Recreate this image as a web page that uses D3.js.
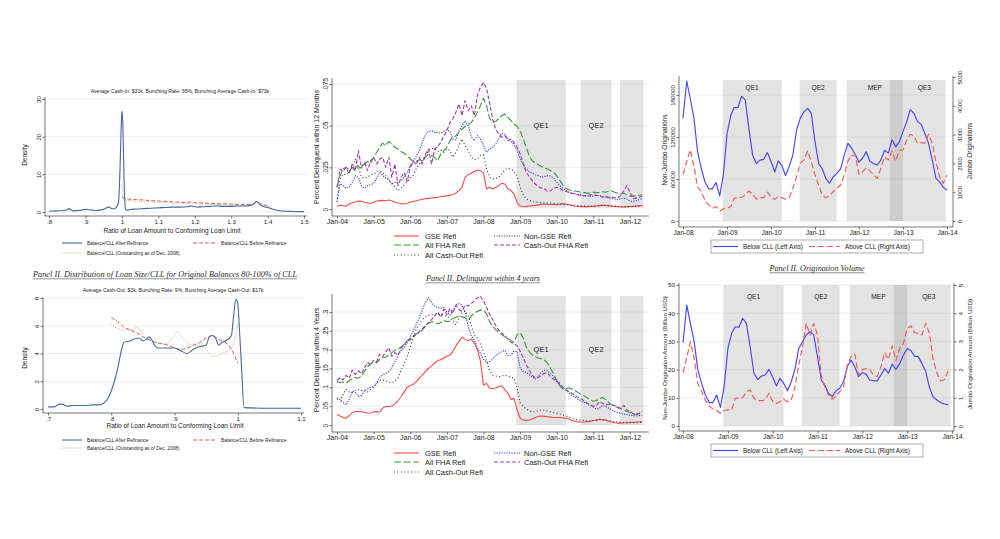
<!DOCTYPE html>
<html>
<head>
<meta charset="utf-8">
<script src="https://cdn.jsdelivr.net/npm/d3@7/dist/d3.min.js"></script>
<style>
html,body{margin:0;padding:0;background:#fff;}
svg{display:block;}
</style>
</head>
<body>
<svg id="chart" width="1000" height="539"></svg>
<script>
// ================= DATA =================
// Left panels: density of Balance/CLL
const ratioAfterA = [0.80,0.82,0.84,0.85,0.855,0.86,0.87,0.88,0.89,0.90,0.91,0.92,0.93,0.94,0.95,0.96,0.965,0.97,0.98,0.985,0.99,0.993,0.996,0.998,1.000,1.002,1.004,1.006,1.008,1.010,1.015,1.02,1.04,1.06,1.08,1.10,1.12,1.14,1.16,1.18,1.19,1.20,1.21,1.22,1.24,1.26,1.28,1.30,1.32,1.34,1.35,1.36,1.365,1.37,1.375,1.38,1.39,1.40,1.41,1.42,1.43,1.44,1.45,1.47,1.50];
const densAfterA = [0.2,0.3,0.4,0.6,0.9,0.6,0.3,0.4,0.5,0.7,0.6,0.5,0.4,0.5,0.7,1.2,1.3,1.0,0.8,1.3,2.2,6.0,15.0,22.0,26.8,25.0,18.0,9.0,3.0,0.6,0.5,0.6,0.8,0.9,1.0,1.1,1.2,1.3,1.3,1.4,1.6,1.4,1.3,1.4,1.5,1.6,1.5,1.5,1.6,1.6,1.7,2.0,2.5,2.8,2.5,1.9,1.4,1.2,0.9,0.6,0.4,0.3,0.2,0.15,0.1];
const ratioBeforeA = [1.00,1.01,1.02,1.04,1.06,1.08,1.10,1.12,1.14,1.16,1.18,1.19,1.20,1.22,1.24,1.26,1.28,1.30,1.32,1.34,1.36,1.37,1.38,1.39,1.40];
const densBeforeA = [4.0,3.5,3.4,3.3,3.2,3.0,2.9,2.8,2.7,2.6,2.5,2.7,2.5,2.4,2.3,2.2,2.2,2.1,2.0,2.0,2.1,2.7,2.2,1.9,1.6];
const ratioOutA = [1.000,1.002,1.005,1.01,1.02,1.04,1.06,1.08,1.10,1.12,1.14,1.16,1.18,1.19,1.20,1.22,1.24,1.26,1.28,1.30,1.32,1.34,1.36,1.37,1.38,1.39,1.40,1.41];
const densOutA = [7.3,4.5,3.3,3.1,3.0,2.9,2.8,2.7,2.6,2.5,2.4,2.3,2.2,2.4,2.2,2.1,2.0,2.0,1.9,1.8,1.8,1.7,1.9,2.4,2.0,1.7,1.5,1.4];

const ratioAfterB = [0.700,0.710,0.715,0.720,0.725,0.730,0.740,0.750,0.760,0.770,0.780,0.785,0.790,0.795,0.800,0.805,0.810,0.815,0.820,0.830,0.840,0.845,0.850,0.855,0.860,0.865,0.870,0.875,0.880,0.890,0.900,0.910,0.920,0.930,0.940,0.950,0.955,0.960,0.965,0.970,0.975,0.980,0.990,0.993,0.997,1.000,1.003,1.006,1.010,1.020,1.050,1.100];
const densAfterB = [0.15,0.15,0.3,0.35,0.3,0.2,0.25,0.25,0.25,0.3,0.3,0.35,0.5,0.8,1.3,2.0,2.9,4.0,4.8,4.9,5.1,5.1,4.9,5.0,5.2,4.9,4.5,4.4,4.4,4.4,4.4,4.2,4.0,4.3,4.5,4.6,5.2,5.3,5.1,4.6,4.8,4.9,5.3,6.5,7.9,7.6,5.5,3.0,0.1,0.08,0.05,0.05];
const ratioBeforeB = [0.80,0.81,0.82,0.83,0.84,0.85,0.86,0.87,0.88,0.89,0.90,0.91,0.92,0.93,0.94,0.95,0.96,0.97,0.98,0.99,1.00];
const densBeforeB = [6.6,6.3,5.9,5.7,5.5,5.2,5.0,4.8,4.7,4.6,4.4,4.3,4.4,4.6,4.8,5.1,5.3,5.0,4.8,4.3,3.3];
const ratioOutB = [0.80,0.81,0.82,0.83,0.84,0.845,0.85,0.86,0.87,0.88,0.89,0.90,0.905,0.91,0.92,0.93,0.94,0.95,0.96,0.97,0.98,0.99,0.995,1.00];
const densOutB = [6.1,5.8,5.7,5.7,5.9,5.8,5.4,5.0,4.8,4.7,4.8,5.3,5.6,5.3,4.8,4.6,4.6,4.3,3.8,3.9,4.1,4.4,5.0,6.2];

const xTicksA = [0.8,0.9,1.0,1.1,1.2,1.3,1.4,1.5];
const xTickLabelsA = [".8",".9","1","1.1","1.2","1.3","1.4","1.5"];
const yTicksA = [0,10,20,30];
const yTickLabelsA = ["0","10","20","30"];
const xTicksB = [0.7,0.8,0.9,1.0,1.1];
const xTickLabelsB = [".7",".8",".9","1","1.1"];
const yTicksB = [0,2,4,6,8];
const yTickLabelsB = ["0","2","4","6","8"];

// Middle panels: monthly delinquency rates, Jan-2004 .. May-2012
const gse12 = [.0016,.0022,.0020,.0016,.0030,.0036,.0042,.0048,.0046,.0040,.0036,.0034,.0040,.0048,.0050,.0052,.0050,.0054,.0050,.0042,.0036,.0032,.0030,.0034,.0040,.0046,.0050,.0054,.0058,.0062,.0064,.0066,.0068,.0070,.0074,.0076,.0080,.0082,.0086,.0096,.0110,.0130,.0190,.0205,.0215,.0225,.0234,.0230,.0215,.0120,.0130,.0120,.0130,.0140,.0155,.0150,.0120,.0110,.0090,.0040,.0018,.0015,.0016,.0018,.0020,.0022,.0025,.0028,.0030,.0028,.0027,.0028,.0026,.0030,.0032,.0030,.0026,.0022,.0018,.0015,.0014,.0014,.0014,.0016,.0016,.0018,.0020,.0022,.0022,.0020,.0018,.0016,.0014,.0012,.0012,.0014,.0015,.0016,.0018,.0020,.0020];
const nonGse12 = [.0050,.0150,.0140,.0125,.0130,.0160,.0200,.0190,.0140,.0125,.0140,.0145,.0155,.0185,.0220,.0200,.0185,.0175,.0150,.0160,.0160,.0170,.0190,.0220,.0260,.0285,.0315,.0350,.0400,.0445,.0465,.0470,.0460,.0458,.0455,.0465,.0475,.0465,.0420,.0415,.0470,.0500,.0530,.0500,.0435,.0410,.0440,.0420,.0385,.0340,.0360,.0370,.0390,.0420,.0455,.0450,.0425,.0405,.0385,.0355,.0300,.0265,.0240,.0225,.0215,.0205,.0200,.0190,.0195,.0200,.0198,.0185,.0160,.0140,.0125,.0110,.0100,.0095,.0092,.0088,.0085,.0080,.0078,.0076,.0078,.0082,.0080,.0075,.0070,.0068,.0064,.0060,.0056,.0062,.0066,.0060,.0048,.0046,.0050,.0056,.0062];
const fha12 = [.0130,.0200,.0240,.0250,.0235,.0250,.0230,.0255,.0245,.0270,.0285,.0275,.0310,.0340,.0370,.0395,.0380,.0405,.0390,.0370,.0360,.0345,.0335,.0320,.0300,.0285,.0285,.0295,.0290,.0310,.0330,.0320,.0310,.0290,.0330,.0350,.0370,.0410,.0430,.0440,.0460,.0480,.0495,.0505,.0520,.0545,.0580,.0620,.0665,.0620,.0545,.0520,.0525,.0545,.0560,.0570,.0550,.0530,.0510,.0495,.0470,.0420,.0370,.0320,.0290,.0275,.0265,.0255,.0245,.0240,.0230,.0220,.0200,.0170,.0145,.0125,.0115,.0110,.0108,.0105,.0100,.0098,.0095,.0096,.0100,.0098,.0100,.0104,.0100,.0106,.0110,.0100,.0095,.0090,.0095,.0085,.0076,.0080,.0078,.0082,.0086];
const cashOutFha12 = [.0130,.0240,.0225,.0250,.0210,.0270,.0230,.0350,.0250,.0280,.0230,.0290,.0310,.0270,.0300,.0310,.0250,.0310,.0190,.0270,.0140,.0190,.0220,.0165,.0250,.0285,.0265,.0310,.0270,.0330,.0360,.0270,.0360,.0375,.0400,.0440,.0470,.0520,.0540,.0580,.0630,.0560,.0650,.0590,.0620,.0560,.0680,.0730,.0760,.0720,.0640,.0540,.0480,.0450,.0430,.0440,.0410,.0420,.0400,.0370,.0330,.0270,.0220,.0195,.0170,.0150,.0135,.0125,.0120,.0105,.0110,.0125,.0130,.0125,.0110,.0105,.0100,.0095,.0090,.0085,.0080,.0078,.0082,.0085,.0086,.0082,.0078,.0072,.0075,.0070,.0072,.0068,.0066,.0080,.0110,.0140,.0100,.0062,.0065,.0070,.0076];
const cashOut12 = [.0040,.0180,.0210,.0205,.0225,.0250,.0300,.0250,.0190,.0185,.0190,.0205,.0210,.0225,.0230,.0220,.0200,.0175,.0150,.0130,.0110,.0125,.0145,.0165,.0185,.0205,.0240,.0270,.0290,.0320,.0350,.0365,.0360,.0345,.0355,.0340,.0360,.0350,.0310,.0340,.0380,.0420,.0380,.0350,.0315,.0295,.0300,.0320,.0325,.0240,.0190,.0180,.0182,.0190,.0210,.0235,.0245,.0240,.0225,.0200,.0130,.0085,.0060,.0052,.0046,.0042,.0040,.0038,.0036,.0036,.0036,.0034,.0032,.0030,.0028,.0026,.0025,.0023,.0021,.0020,.0019,.0018,.0017,.0016,.0017,.0019,.0021,.0022,.0021,.0019,.0017,.0016,.0015,.0015,.0014,.0014,.0014,.0015,.0016,.0018,.0020];

const gse4 = [.027,.024,.020,.018,.025,.032,.036,.036,.035,.033,.031,.032,.035,.036,.034,.045,.049,.049,.050,.056,.065,.075,.088,.100,.105,.108,.115,.124,.133,.142,.150,.157,.164,.171,.173,.178,.183,.186,.195,.210,.222,.233,.228,.224,.228,.218,.200,.170,.106,.110,.098,.096,.098,.102,.104,.094,.084,.068,.070,.040,.018,.013,.012,.013,.016,.020,.023,.024,.023,.022,.021,.020,.020,.020,.019,.018,.016,.012,.010,.008,.008,.008,.009,.010,.012,.013,.015,.014,.013,.010,.008,.006,.005,.005,.006,.006,.007,.007,.008,.008,.009];
const nonGse4 = [.072,.068,.060,.053,.068,.090,.086,.076,.078,.090,.096,.100,.102,.112,.126,.133,.137,.142,.152,.168,.184,.198,.206,.218,.235,.250,.268,.285,.305,.325,.338,.325,.315,.312,.310,.312,.300,.292,.302,.320,.322,.318,.300,.262,.236,.226,.205,.190,.174,.166,.168,.176,.184,.190,.195,.198,.184,.186,.196,.195,.150,.142,.140,.134,.128,.122,.130,.140,.146,.144,.136,.128,.115,.105,.100,.093,.086,.079,.074,.068,.064,.060,.056,.052,.047,.042,.044,.052,.050,.045,.040,.036,.033,.031,.029,.028,.026,.025,.024,.025,.026];
const fha4 = [.115,.113,.114,.112,.118,.122,.126,.124,.130,.142,.155,.162,.168,.165,.174,.180,.180,.186,.192,.198,.203,.207,.214,.224,.230,.237,.242,.246,.252,.262,.270,.274,.272,.268,.272,.278,.274,.276,.282,.286,.289,.287,.285,.278,.290,.296,.302,.305,.305,.295,.275,.262,.253,.246,.240,.234,.230,.224,.220,.240,.245,.230,.208,.195,.186,.181,.178,.176,.172,.164,.150,.135,.118,.104,.096,.097,.098,.096,.092,.086,.081,.077,.072,.067,.063,.065,.070,.073,.068,.060,.054,.050,.046,.043,.040,.036,.033,.029,.028,.031,.037];
const cashOutFha4 = [.118,.126,.120,.132,.124,.146,.134,.144,.136,.152,.166,.160,.172,.168,.188,.182,.194,.205,.182,.192,.185,.204,.212,.224,.226,.234,.240,.248,.256,.264,.272,.280,.290,.300,.286,.308,.292,.310,.296,.318,.306,.302,.318,.316,.322,.330,.338,.342,.330,.312,.295,.280,.265,.252,.244,.236,.228,.220,.216,.210,.196,.178,.160,.146,.132,.125,.126,.132,.138,.137,.128,.121,.116,.110,.100,.094,.089,.084,.078,.074,.070,.064,.058,.054,.050,.052,.062,.058,.054,.055,.053,.052,.048,.044,.052,.040,.036,.030,.028,.030,.034];
const cashOut4 = [.070,.064,.080,.095,.088,.086,.092,.094,.092,.093,.088,.094,.100,.110,.118,.120,.118,.113,.112,.116,.126,.145,.162,.182,.206,.232,.255,.268,.280,.287,.291,.294,.292,.293,.294,.292,.287,.284,.276,.266,.284,.298,.303,.290,.265,.240,.230,.215,.195,.170,.145,.133,.130,.128,.130,.133,.130,.127,.124,.100,.058,.049,.043,.038,.035,.035,.038,.040,.040,.037,.035,.033,.031,.029,.027,.024,.021,.018,.015,.014,.013,.012,.011,.011,.012,.013,.015,.014,.013,.012,.011,.009,.008,.007,.006,.006,.006,.006,.006,.007,.007];

const delinqTickLabels = ["Jan-04","Jan-05","Jan-06","Jan-07","Jan-08","Jan-09","Jan-10","Jan-11","Jan-12"];
const yTicks12 = [0,.025,.05,.075];
const yTickLabels12 = ["0",".025",".05",".075"];
const yTicks4 = [0,.05,.1,.15,.2,.25,.3];
const yTickLabels4 = ["0",".05",".1",".15",".2",".25",".3"];

// Right panels: monthly origination volumes, Jan-2008 ..
const nonJumboCount = [147000,200000,175000,147000,99000,75000,56000,46000,46000,55000,36000,66000,125000,151000,162000,162000,178000,173000,132000,94000,82000,87000,88000,98000,85000,70000,86000,79000,65000,78000,94000,130000,147000,156000,161000,154000,113000,82000,75000,61000,54000,63000,68000,74000,94000,111000,104000,95000,84000,90000,99000,85000,82000,80000,87000,101000,97000,116000,106000,113000,128000,142000,159000,154000,142000,138000,125000,111000,87000,61000,56000,48000,44000];
const jumboCount = [1620,2060,2470,1890,1190,1020,730,560,440,500,350,420,440,500,790,810,820,900,1040,930,760,810,810,1000,840,750,840,810,760,810,1130,1540,2000,2120,2430,2060,1600,1250,900,810,880,1020,1130,1250,1600,2080,2270,2290,1620,1710,1850,1740,1600,1480,1830,2230,2120,2430,2080,2450,2470,2810,3010,2950,2700,2720,2700,3010,2700,2060,1540,1310,1600];
const nonJumboAmount = [29.5,42.9,36.4,29.9,19.9,15.1,11.0,8.3,8.3,11.0,6.6,13.9,27.5,32.9,35.2,35.0,38.2,36.4,28.1,18.7,16.5,17.7,18.1,20.1,17.3,14.2,16.9,15.1,12.5,15.7,20.1,27.5,29.9,32.3,33.4,32.3,24.6,16.3,14.5,11.6,10.4,12.5,13.4,15.7,21.0,23.4,21.0,17.5,18.9,18.4,16.3,16.1,16.0,18.1,20.4,18.7,22.0,20.1,22.2,25.2,27.5,26.7,24.8,24.6,22.2,19.3,13.7,10.2,9.2,8.3,7.8,7.6];
const jumboAmount = [1.89,2.43,2.99,2.40,1.51,1.22,0.92,0.71,0.60,0.55,0.45,0.55,0.57,0.57,0.98,0.99,1.00,1.22,1.28,0.98,0.90,0.90,0.92,1.16,0.86,0.80,0.86,0.95,0.86,0.92,1.37,2.16,2.81,3.64,3.23,3.64,3.23,1.75,1.39,1.10,0.95,1.06,1.22,1.37,2.16,2.46,2.55,1.81,1.99,2.04,2.01,1.81,1.75,2.10,2.60,2.36,2.84,2.32,2.75,2.93,3.46,3.55,3.31,3.29,3.23,3.64,3.29,2.34,1.87,1.60,1.65,1.95];

const origTickLabels = ["Jan-08","Jan-09","Jan-10","Jan-11","Jan-12","Jan-13","Jan-14"];
const yTicksCount = [0,60000,120000,180000];
const yTickLabelsCount = ["0","60000","120000","180000"];
const yTicksJumboCount = [0,1000,2000,3000,4000,5000];
const yTickLabelsJumboCount = ["0","1000","2000","3000","4000","5000"];
const yTicksAmount = [0,10,20,30,40,50];
const yTickLabelsAmount = ["0","10","20","30","40","50"];
const yTicksJumboAmount = [0,1,2,3,4,5];
const yTickLabelsJumboAmount = ["0","1","2","3","4","5"];

// Policy programs shaded
const programNames = ["QE1","QE2","MEP","QE3"];
const programStart = ["2008-11-25","2010-08-27","2011-09-21","2012-09-13"];
const programEnd = ["2010-03-31","2011-06-30","2012-12-31","2013-12-20"];

// ================= DRAWING =================
const FONT = "'Liberation Sans', Arial, Helvetica, sans-serif";
const SERIF = "'Liberation Serif', 'Times New Roman', serif";
const AX = "#3c3c3c", TXT = "#1c1c1c", GRID = "#ececec";
const svg = d3.select("#chart");
const parseDay = d3.timeParse("%Y-%m-%d");

function txt(g, x, y, s, fs, opt) {
  opt = opt || {};
  const t = g.append("text").attr("x", x).attr("y", y).text(s)
    .attr("font-size", fs).attr("font-family", opt.family || FONT)
    .attr("fill", opt.fill || TXT).attr("text-anchor", opt.anchor || "middle");
  if (opt.rotate) t.attr("transform", `rotate(${opt.rotate},${x},${y})`);
  if (opt.italic) t.attr("font-style", "italic");
  if (opt.len) t.attr("textLength", opt.len).attr("lengthAdjust", "spacingAndGlyphs");
  return t;
}
function xAxis(g, scale, ticks, labels, y, fs) {
  const a = g.append("g").attr("transform", `translate(0,${y})`)
    .call(d3.axisBottom(scale).tickValues(ticks).tickFormat((d, i) => labels[i]).tickSize(2.5).tickPadding(1));
  a.select(".domain").remove();
  a.selectAll(".tick line").attr("stroke", AX).attr("stroke-width", 0.7);
  a.selectAll(".tick text").attr("font-size", fs).attr("font-family", FONT).attr("fill", TXT);
}
function yAxis(g, scale, ticks, labels, x, fs, side, rotate) {
  const gen = side === "left" ? d3.axisLeft(scale) : d3.axisRight(scale);
  const a = g.append("g").attr("transform", `translate(${x},0)`)
    .call(gen.tickValues(ticks).tickFormat((d, i) => labels[i]).tickSize(2.5).tickPadding(1.5));
  a.select(".domain").remove();
  a.selectAll(".tick line").attr("stroke", AX).attr("stroke-width", 0.7);
  const t = a.selectAll(".tick text").attr("font-size", fs).attr("font-family", FONT).attr("fill", TXT);
  if (rotate) {
    const off = side === "left" ? -4.2 : 4.2 + fs * 0.72;
    t.attr("x", 0).attr("y", off).attr("dy", null).attr("text-anchor", "middle").attr("transform", "rotate(-90)");
  }
}
function grid(g, scale, ticks, x0, x1) {
  ticks.forEach(d => g.append("line").attr("x1", x0).attr("x2", x1)
    .attr("y1", scale(d)).attr("y2", scale(d)).attr("stroke", GRID).attr("stroke-width", 0.8));
}
function frame(g, axX, axY, top, right, rightAxX) {
  g.append("line").attr("x1", axX).attr("x2", axX).attr("y1", top).attr("y2", axY).attr("stroke", AX).attr("stroke-width", 0.7);
  g.append("line").attr("x1", axX).attr("x2", right).attr("y1", axY).attr("y2", axY).attr("stroke", AX).attr("stroke-width", 0.7);
  if (rightAxX) g.append("line").attr("x1", rightAxX).attr("x2", rightAxX).attr("y1", top).attr("y2", axY).attr("stroke", AX).attr("stroke-width", 0.7);
}
function legendItem(g, x1, x2, y, style, label, tx, fs) {
  g.append("line").attr("x1", x1).attr("x2", x2).attr("y1", y).attr("y2", y)
    .attr("stroke", style.color).attr("stroke-width", style.width).attr("stroke-dasharray", style.dash || null);
  txt(g, tx, y + fs * 0.35, label, fs, { anchor: "start" });
}
function panelTitle(g, cx, y, s, len) {
  txt(g, cx, y, s, 8.4, { family: SERIF, italic: true, len: len, fill: "#2a2a2a" });
  g.append("line").attr("x1", cx - len / 2).attr("x2", cx + len / 2).attr("y1", y + 1.8).attr("y2", y + 1.8)
    .attr("stroke", "#444").attr("stroke-width", 0.6);
}

// ---------- Density panels ----------
const denStyles = {
  after: { color: "#4a6895", width: 1.1 },
  before: { color: "#c86060", width: 1.0, dash: "4,2" },
  out: { color: "#c4b488", width: 1.0, dash: "1,1.2" }
};
function densityPanel(o) {
  const g = svg.append("g");
  const x = d3.scaleLinear().domain(o.xDom).range(o.xRng);
  const y = d3.scaleLinear().domain(o.yDom).range(o.yRng);
  grid(g, y, o.yTicks, o.axX, o.right);
  const line = d3.line().x(d => x(d[0])).y(d => y(d[1])).curve(d3.curveMonotoneX);
  o.series.forEach(s => {
    const pts = s.xs.map((v, i) => [v, s.ys[i]]);
    g.append("path").datum(pts).attr("d", line).attr("fill", "none")
      .attr("stroke", s.style.color).attr("stroke-width", s.style.width)
      .attr("stroke-dasharray", s.style.dash || null).attr("stroke-linejoin", "round");
  });
  frame(g, o.axX, o.axY, o.top, o.right);
  xAxis(g, x, o.xTicks, o.xLabels, o.axY, 6.2);
  yAxis(g, y, o.yTicks, o.yLabels, o.axX, 6.2, "left", true);
  txt(g, o.subX, o.subY, o.subtitle, 5.1);
  txt(g, o.xlabX, o.xlabY, "Ratio of Loan Amount to Conforming Loan Limit", 6.5);
  txt(g, 26.5, o.ylabY, "Density", 6.5, { rotate: -90 });
  const fs = 4.8;
  legendItem(g, 62, 82, o.leg1, denStyles.after, "Balance/CLL After Refinance", 87, fs);
  legendItem(g, 193, 217, o.leg1, denStyles.before, "Balance/CLL Before Refinance", 221, fs);
  legendItem(g, 62, 82, o.leg2, denStyles.out, "Balance/CLL (Outstanding as of Dec. 2008)", 87, fs);
}

densityPanel({
  xDom: [0.8, 1.5], xRng: [49, 304], yDom: [0, 30], yRng: [212, 99],
  axX: 45, axY: 216, top: 97, right: 307,
  xTicks: xTicksA, xLabels: xTickLabelsA, yTicks: yTicksA, yLabels: yTickLabelsA,
  series: [
    { xs: ratioOutA, ys: densOutA, style: denStyles.out },
    { xs: ratioBeforeA, ys: densBeforeA, style: denStyles.before },
    { xs: ratioAfterA, ys: densAfterA, style: denStyles.after }
  ],
  subtitle: "Average Cash-In: $31k, Bunching Rate: 35%, Bunching Average Cash-In: $73k",
  subX: 180, subY: 93, xlabX: 172, xlabY: 233, ylabY: 155, leg1: 243, leg2: 253
});

const gB = svg.append("g");
panelTitle(gB, 165, 277, "Panel II. Distribution of Loan Size/CLL for Original Balances 80-100% of CLL", 264);
densityPanel({
  xDom: [0.7, 1.1], xRng: [48, 301], yDom: [0, 8], yRng: [409, 298],
  axX: 43, axY: 413, top: 297, right: 304,
  xTicks: xTicksB, xLabels: xTickLabelsB, yTicks: yTicksB, yLabels: yTickLabelsB,
  series: [
    { xs: ratioOutB, ys: densOutB, style: denStyles.out },
    { xs: ratioBeforeB, ys: densBeforeB, style: denStyles.before },
    { xs: ratioAfterB, ys: densAfterB, style: denStyles.after }
  ],
  subtitle: "Average Cash-Out: $2k, Bunching Rate: 9%, Bunching Average Cash-Out: $17k",
  subX: 173, subY: 292, xlabX: 175, xlabY: 428, ylabY: 358, leg1: 440, leg2: 448
});

// ---------- Time series panels ----------
function shade(g, x, top, bottom, clipEnd, labels, labelY, fs) {
  let prevEnd = -Infinity;
  programNames.forEach((n, i) => {
    const a = x(parseDay(programStart[i]));
    const b = Math.min(x(parseDay(programEnd[i])), clipEnd);
    if (b > a) {
      g.append("rect").attr("x", a).attr("y", top).attr("width", b - a).attr("height", bottom - top)
        .attr("fill", "#8c8c8c").attr("fill-opacity", 0.24);
      if (labels.includes(n)) {
        const la = Math.max(a, prevEnd);
        txt(g, (la + b) / 2, labelY, n, fs);
      }
    }
    prevEnd = Math.max(prevEnd, x(parseDay(programEnd[i])));
  });
}
function monthDates(start, n) { return d3.range(n).map(i => d3.timeMonth.offset(start, i)); }

const delStyles = [
  { name: "GSE Refi", color: "#f24c48", width: 1.1 },
  { name: "Non-GSE Refi", color: "#3b3bf0", width: 1.1, dash: "1.2,1.3" },
  { name: "All FHA Refi", color: "#3c963c", width: 1.1, dash: "7,2.5" },
  { name: "Cash-Out FHA Refi", color: "#9a3c9e", width: 1.1, dash: "4,2" },
  { name: "All Cash-Out Refi", color: "#333333", width: 1.1, dash: "1,2.4" }
];

function delinqPanel(o) {
  const g = svg.append("g");
  const x = d3.scaleTime().domain([new Date(2004, 0, 1), new Date(2012, 0, 1)]).range([337, 630]);
  const y = d3.scaleLinear().domain(o.yDom).range(o.yRng);
  grid(g, y, o.yTicks, 332, 649);
  const dates = monthDates(new Date(2004, 0, 1), o.series[0].length);
  const clipEnd = x(d3.timeDay.offset(dates[dates.length - 1], 14));
  shade(g, x, o.shTop, o.shBot, clipEnd, ["QE1", "QE2"], o.qeY, 7.5);
  const line = d3.line().x((d, i) => x(dates[i])).y(d => y(d));
  o.series.forEach((s, k) => {
    const st = delStyles[k];
    g.append("path").datum(s).attr("d", line).attr("fill", "none")
      .attr("stroke", st.color).attr("stroke-width", st.width).attr("stroke-dasharray", st.dash || null)
      .attr("stroke-linejoin", "round");
  });
  frame(g, 332, o.axY, o.top, 649);
  const xt = d3.range(9).map(i => new Date(2004 + i, 0, 1));
  xAxis(g, x, xt, delinqTickLabels, o.axY, 7);
  yAxis(g, y, o.yTicks, o.yLabels, 332, 6.8, "left", true);
  txt(g, 318.5, o.ylabY, o.ylabel, 7, { rotate: -90 });
  const fs = 7.5;
  legendItem(g, 394, 419, o.leg[0], delStyles[0], delStyles[0].name, 425, fs);
  legendItem(g, 494, 520, o.leg[0], delStyles[1], delStyles[1].name, 524, fs);
  legendItem(g, 394, 419, o.leg[1], delStyles[2], delStyles[2].name, 425, fs);
  legendItem(g, 494, 520, o.leg[1], delStyles[3], delStyles[3].name, 524, fs);
  legendItem(g, 394, 419, o.leg[2], delStyles[4], delStyles[4].name, 425, fs);
}

delinqPanel({
  yDom: [0, .075], yRng: [209, 84], yTicks: yTicks12, yLabels: yTickLabels12,
  series: [gse12, nonGse12, fha12, cashOutFha12, cashOut12],
  shTop: 80, shBot: 208, qeY: 128, axY: 216, top: 78,
  ylabel: "Percent Delinquent within 12 Months", ylabY: 147, leg: [236, 245, 255]
});
const gD = svg.append("g");
panelTitle(gD, 483, 281, "Panel II. Delinquent within 4 years", 114);
delinqPanel({
  yDom: [0, .3], yRng: [425, 312], yTicks: yTicks4, yLabels: yTickLabels4,
  series: [gse4, nonGse4, fha4, cashOutFha4, cashOut4],
  shTop: 296, shBot: 425, qeY: 352, axY: 432, top: 294,
  ylabel: "Percent Delinquent within 4 Years", ylabY: 360, leg: [453, 462, 472]
});

// ---------- Origination panels ----------
const origStyles = {
  below: { color: "#4646f2", width: 1.15 },
  above: { color: "#f05a5a", width: 1.15, dash: "6,3" }
};
function origPanel(o) {
  const g = svg.append("g");
  const x = d3.scaleTime().domain([new Date(2008, 0, 1), new Date(2014, 0, 1)]).range([683, o.x14]);
  const yL = d3.scaleLinear().domain(o.yLDom).range(o.yLRng);
  const yR = d3.scaleLinear().domain(o.yRDom).range(o.yRRng);
  grid(g, yL, o.yLTicks, 679, o.rightAx);
  shade(g, x, o.shTop, o.shBot, Infinity, programNames, o.qeY, 6.6);
  const dL = monthDates(new Date(2008, 0, 1), o.left.length);
  const dR = monthDates(new Date(2008, 0, 1), o.right.length);
  g.append("path").datum(o.left).attr("d", d3.line().x((d, i) => x(dL[i])).y(d => yL(d)))
    .attr("fill", "none").attr("stroke", origStyles.below.color).attr("stroke-width", origStyles.below.width).attr("stroke-linejoin", "round");
  g.append("path").datum(o.right).attr("d", d3.line().x((d, i) => x(dR[i])).y(d => yR(d)))
    .attr("fill", "none").attr("stroke", origStyles.above.color).attr("stroke-width", origStyles.above.width)
    .attr("stroke-dasharray", origStyles.above.dash).attr("stroke-linejoin", "round");
  frame(g, 679, o.axY, o.top, o.rightAx, o.rightAx);
  const xt = d3.range(7).map(i => new Date(2008 + i, 0, 1));
  xAxis(g, x, xt, origTickLabels, o.axY, 6.6);
  yAxis(g, yL, o.yLTicks, o.yLLabels, 679, 6.2, "left", o.rotL);
  yAxis(g, yR, o.yRTicks, o.yRLabels, o.rightAx, 6.2, "right", true);
  txt(g, 667, o.labY, o.labL, o.labFs, { rotate: -90 });
  txt(g, 971.5, o.labY2, o.labR, o.labFs, { rotate: -90 });
  // legend box
  g.append("rect").attr("x", 711).attr("y", o.legTop).attr("width", 212).attr("height", 13)
    .attr("fill", "#fff").attr("stroke", "#777").attr("stroke-width", 0.6);
  const ly = o.legTop + 6.5;
  legendItem(g, 713, 738, ly, origStyles.below, "Below CLL (Left Axis)", 743, 6.3);
  legendItem(g, 809, 840, ly, origStyles.above, "Above CLL (Right Axis)", 845, 6.3);
}

origPanel({
  x14: 947, yLDom: [0, 180000], yLRng: [221, 95], yRDom: [0, 5000], yRRng: [221, 77],
  yLTicks: yTicksCount, yLLabels: yTickLabelsCount, yRTicks: yTicksJumboCount, yRLabels: yTickLabelsJumboCount,
  left: nonJumboCount, right: jumboCount,
  shTop: 80, shBot: 221, qeY: 90, axY: 227, top: 76, rightAx: 953, rotL: true,
  labL: "Non-Jumbo Originations", labR: "Jumbo Originations", labFs: 6.6, labY: 150, labY2: 151, legTop: 240
});
const gF = svg.append("g");
panelTitle(gF, 817, 271, "Panel II. Origination Volume", 95);
origPanel({
  x14: 952, yLDom: [0, 50], yLRng: [426, 285], yRDom: [0, 5], yRRng: [426, 285],
  yLTicks: yTicksAmount, yLLabels: yTickLabelsAmount, yRTicks: yTicksJumboAmount, yRLabels: yTickLabelsJumboAmount,
  left: nonJumboAmount, right: jumboAmount,
  shTop: 285, shBot: 426, qeY: 299, axY: 431, top: 283, rightAx: 954, rotL: false,
  labL: "Non-Jumbo Origination Amount (Billion USD)", labR: "Jumbo Origination Amount (Billion USD)", labFs: 6.2, labY: 358, labY2: 354, legTop: 444
});
</script>
</body>
</html>
